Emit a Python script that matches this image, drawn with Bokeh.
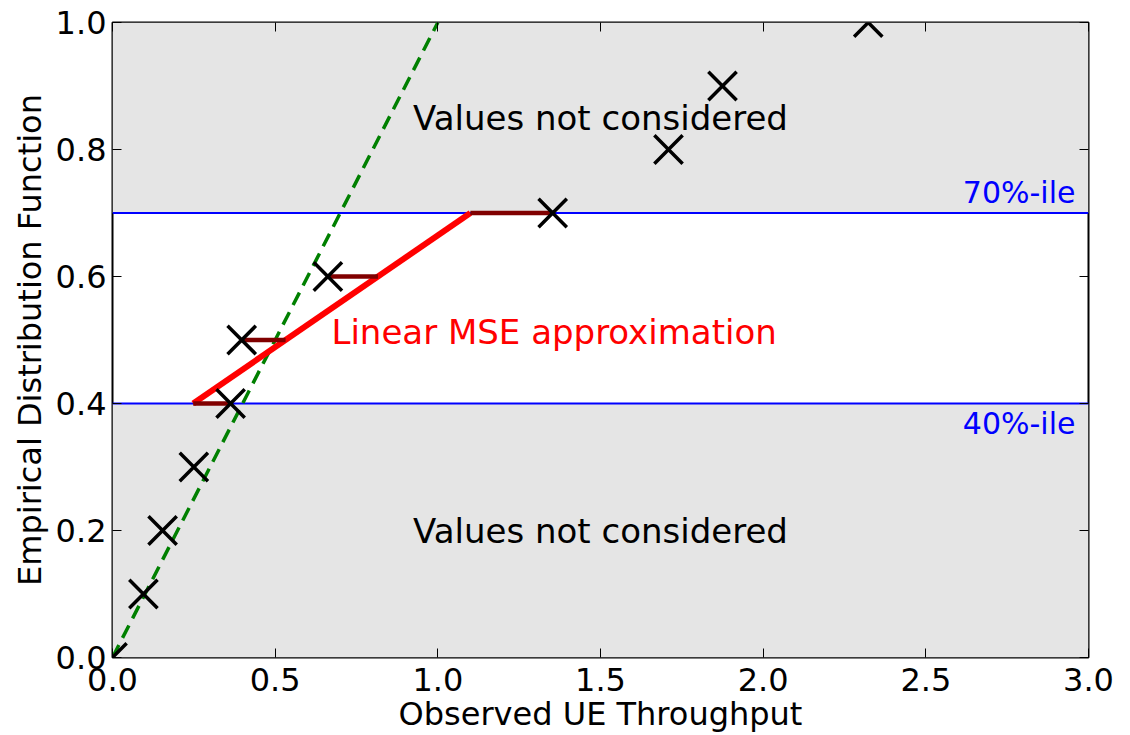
from bokeh.plotting import figure
from bokeh.models import Range1d, FixedTicker, LinearAxis, Label, CustomJSTickFormatter
from bokeh.embed import file_html
from bokeh.resources import INLINE
import numpy as np

# data
obs_x = [0.0, 0.095, 0.154, 0.250, 0.363, 0.397, 0.662, 1.353, 1.709, 1.875, 2.323]
obs_y = [0.0, 0.1, 0.2, 0.3, 0.4, 0.5, 0.6, 0.7, 0.8, 0.9, 1.0]
ref_x = [0.0, 1.0]
ref_y = [0.0, 1.0]
fit_x = [0.248, 1.10]
fit_y = [0.4, 0.7]
lo_pct = 0.4
hi_pct = 0.7
band_bottom = [0.0, 0.7]
band_top = [0.4, 1.0]
x_ticks = [0.0, 0.5, 1.0, 1.5, 2.0, 2.5, 3.0]
y_ticks = [0.0, 0.2, 0.4, 0.6, 0.8, 1.0]

FONT = "DejaVu Sans"

p = figure(width=1130, height=735, output_backend="svg", toolbar_location=None,
           x_range=Range1d(0, 3), y_range=Range1d(0, 1),
           min_border_left=112, min_border_right=42, min_border_top=22, min_border_bottom=78)
p.xgrid.visible = False
p.ygrid.visible = False
p.outline_line_color = "black"
p.outline_line_width = 2
p.background_fill_color = "white"

# grey bands
p.quad(left=0, right=3, bottom=band_bottom, top=band_top, fill_color="#e5e5e5", line_color=None)

# percentile lines
for v in [lo_pct, hi_pct]:
    p.line([0, 3], [v, v], line_color="blue", line_width=2)

# reference dashed line
p.line(ref_x, ref_y, line_color="green", line_width=3.5, line_dash="14 8")

# fit line
p.line(fit_x, fit_y, line_color="red", line_width=6)

# residual segments
sel = [i for i, y in enumerate(obs_y) if lo_pct <= y <= hi_pct]
seg_y = [obs_y[i] for i in sel]
seg_x0 = [obs_x[i] for i in sel]
seg_x1 = list(np.interp(seg_y, fit_y, fit_x))
p.segment(x0=seg_x0, y0=seg_y, x1=seg_x1, y1=seg_y, line_color="#800000", line_width=4.5)

# observations
p.scatter(obs_x, obs_y, marker="x", size=40, line_color="black", line_width=3.5)

# texts
p.add_layout(Label(x=1.5, y=0.85, text="Values not considered", text_align="center",
                   text_baseline="middle", text_font=FONT, text_font_size="34px", text_color="black"))
p.add_layout(Label(x=1.5, y=0.2, text="Values not considered", text_align="center",
                   text_baseline="middle", text_font=FONT, text_font_size="34px", text_color="black"))
p.add_layout(Label(x=0.673, y=0.513, text="Linear MSE approximation", text_align="left",
                   text_baseline="middle", text_font=FONT, text_font_size="34px", text_color="red"))
p.add_layout(Label(x=2.96, y=hi_pct + 0.004, text="70%-ile", text_align="right",
                   text_baseline="bottom", text_font=FONT, text_font_size="30px", text_color="blue"))
p.add_layout(Label(x=2.96, y=lo_pct - 0.004, text="40%-ile", text_align="right",
                   text_baseline="top", text_font=FONT, text_font_size="30px", text_color="blue"))

fmt = CustomJSTickFormatter(code="return tick.toFixed(1);")
blank = CustomJSTickFormatter(code="return '';")

def style_axis(ax, ticks, labels=True):
    ax.ticker = FixedTicker(ticks=ticks)
    ax.formatter = fmt if labels else blank
    ax.major_tick_in = 9
    ax.major_tick_out = 0
    ax.minor_tick_in = 0
    ax.minor_tick_out = 0
    ax.axis_line_color = None
    ax.major_tick_line_color = "black"
    ax.major_tick_line_width = 1
    ax.major_label_text_font = FONT
    ax.major_label_text_font_size = "32px"
    ax.major_label_text_color = "black"
    ax.axis_label_text_font = FONT
    ax.axis_label_text_font_size = "32px"
    ax.axis_label_text_font_style = "normal"
    ax.axis_label_text_color = "black"
    if not labels:
        ax.major_label_text_font_size = "1px"
        ax.major_label_standoff = 0

style_axis(p.xaxis[0], x_ticks)
style_axis(p.yaxis[0], y_ticks)
p.xaxis.axis_label = "Observed UE Throughput"
p.yaxis.axis_label = "Empirical Distribution Function"
p.xaxis.major_label_standoff = 10
p.yaxis.major_label_standoff = 6
p.xaxis.axis_label_standoff = 1
p.yaxis.axis_label_standoff = 4

top = LinearAxis()
right = LinearAxis()
style_axis(top, x_ticks, labels=False)
style_axis(right, y_ticks, labels=False)
p.add_layout(top, "above")
p.add_layout(right, "right")

open("out.html", "w").write(file_html(p, INLINE))
